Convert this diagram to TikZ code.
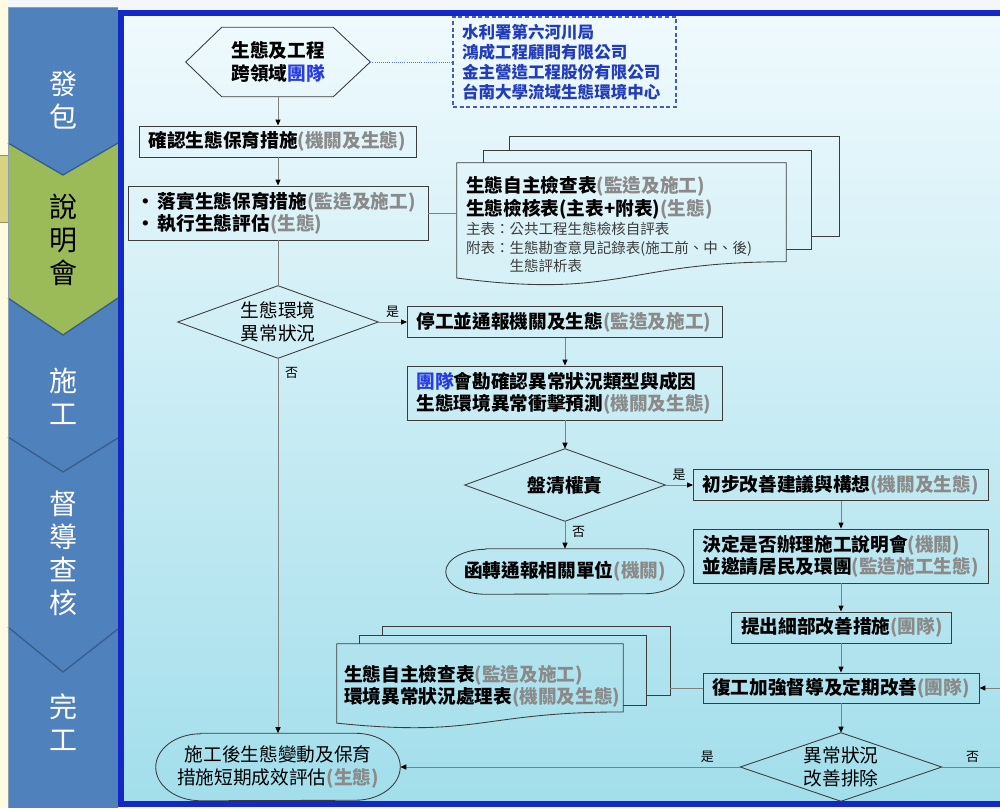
\documentclass[tikz,border=0pt]{standalone}
\usepackage{fontspec}
\setmainfont{Noto Sans CJK TC}
\usetikzlibrary{calc,arrows.meta}
\newdimen\pxu \pxu=0.75pt
\definecolor{stblue}{RGB}{79,129,189}
\definecolor{stgreen}{RGB}{155,187,89}
\definecolor{chev}{RGB}{56,93,138}
\definecolor{frameb}{RGB}{20,40,200}
\definecolor{creamc}{RGB}{255,251,225}
\definecolor{tanc}{RGB}{216,210,130}
\definecolor{grtx}{RGB}{138,138,138}
\definecolor{teamb}{RGB}{40,60,225}
\definecolor{orgb}{RGB}{35,60,185}
\definecolor{bxl}{RGB}{60,60,60}
\definecolor{cnl}{RGB}{128,128,128}
\definecolor{smtx}{RGB}{60,60,60}
\definecolor{bgt}{RGB}{243,247,249}
\definecolor{shA}{RGB}{240,250,253}
\definecolor{shB}{RGB}{210,239,247}
\definecolor{shC}{RGB}{162,222,235}
\newcommand{\mainsz}{\fontsize{14pt}{16.75pt}\selectfont\bfseries\lineskiplimit=-50pt\relax}
\newcommand{\mainreg}{\fontsize{14pt}{16.75pt}\selectfont\lineskiplimit=-50pt\relax}
\newcommand{\smallsz}{\fontsize{10.9pt}{13.9pt}\selectfont\lineskiplimit=-50pt\relax}
\newcommand{\labsz}{\fontsize{9.75pt}{11pt}\selectfont}
\newcommand{\stagesz}{\fontsize{21pt}{24.75pt}\selectfont\lineskiplimit=-50pt\relax}
\newcommand{\orgsz}{\fontsize{12.4pt}{15pt}\selectfont\bfseries\lineskiplimit=-50pt\relax}
\newcommand{\grp}[1]{\textcolor{grtx}{\bfseries #1}}
\newcommand{\tmb}[1]{\textcolor{teamb}{#1}}
\begin{document}
\begin{tikzpicture}[x=0.75pt,y=-0.75pt,
  box/.style={draw=bxl,line width=0.65pt,inner ysep=0pt,align=left,font=\mainsz},
  plain/.style={inner sep=0pt,align=center},
  shapeline/.style={draw=bxl,line width=0.65pt},
  conn/.style={draw=cnl,line width=0.75pt},
  arr/.style={conn,-{Triangle[length=4.5pt,width=3.75pt,color=black]}},
  lab/.style={font=\labsz,inner sep=3pt,text=black},
  stagelab/.style={font=\stagesz,align=center,inner sep=0pt}]
\useasboundingbox (0,0) rectangle (1000,808);
\clip (0,0) rectangle (1000,808);
% background
\fill[bgt] (0,0) rectangle (1000,808);
\fill[creamc] (0,0) rectangle (8,808);
\filldraw[fill=tanc,draw=tanc!70!black,line width=0.4pt] (-2,155) rectangle (8,222);
% stage column
\fill[stblue] (8,7) rectangle (118,808);
\fill[stgreen] (8,143) -- (63,175) -- (118,143) -- (118,298) -- (63,335) -- (8,298) -- cycle;
\draw[chev,line width=1pt] (8,143) -- (63,175) -- (118,143);
\draw[chev,line width=1pt] (8,298) -- (63,335) -- (118,298);
\draw[chev,line width=1pt] (8,437) -- (63,472) -- (118,438);
\draw[chev,line width=1pt] (8,627) -- (63,672) -- (118,629);
\draw[chev!60,line width=0.5pt] (8,808) -- (8,7) -- (118,7);
\node[stagelab,text=white] (st1) at (63,100) {發\\包};
\node[stagelab,text=black] (st2) at (63,240) {說\\明\\會};
\node[stagelab,text=white] (st3) at (63,396) {施\\工};
\node[stagelab,text=white] (st4) at (63,553) {督\\導\\查\\核};
\node[stagelab,text=white] (st5) at (63,722) {完\\工};
% frame
\shade[top color=shA,middle color=shB,bottom color=shC] (121,13) rectangle (1000,804);
\draw[frameb,line width=4.5pt] (121,13) rectangle (1012,804);

% nodes
\node[plain,font=\mainsz,minimum width=184\pxu,minimum height=69\pxu] (hex) at (278,62) {生態及工程\\跨領域\tmb{團隊}};
\draw[shapeline] (hex.west) -- ([xshift=27pt]hex.north west) -- ([xshift=-27.75pt]hex.north east) -- (hex.east) -- ([xshift=-27.75pt]hex.south east) -- ([xshift=27pt]hex.south west) -- cycle;

\node[draw=orgb!85,dash pattern=on 3pt off 2pt,line width=0.8pt,inner ysep=0pt,inner xsep=9\pxu,
  text width=205\pxu,minimum height=90\pxu,align=left,font=\orgsz,text=orgb] (org) at (564.5,62)
  {水利署第六河川局\\鴻成工程顧問有限公司\\金主營造工程股份有限公司\\台南大學流域生態環境中心};

\node[box,minimum height=31\pxu,text width=259\pxu,inner xsep=9\pxu] (confirm) at (278,141.5) {確認生態保育措施\grp{(機關及生態)}};

\node[box,minimum height=54\pxu,text width=284\pxu,inner xsep=8\pxu] (bullets) at (278,213)
  {\makebox[22\pxu][l]{•}落實生態保育措施\grp{(監造及施工)}\\\makebox[22\pxu][l]{•}執行生態評估\grp{(生態)}};

% upper document stack
\node[inner ysep=0pt,inner xsep=9\pxu,text width=311\pxu,minimum height=123.5\pxu,align=left,font=\smallsz] (docA) at (621.5,224.75)
  {{\mainsz 生態自主檢查表\grp{(監造及施工)}}\\[3.35pt]
   {\mainsz 生態檢核表(主表+附表)\grp{(生態)}}\\[0.4pt]
   \leavevmode\textcolor{smtx}{主表：公共工程生態檢核自評表}\\
   \leavevmode\textcolor{smtx}{附表：生態勘查意見記錄表(施工前、中、後)}\\
   \leavevmode\hspace*{3em}\textcolor{smtx}{生態評析表}};
\draw[shapeline] (docA.north west) -- (docA.north east) -- ($(docA.north east)+(0,99)$)
  .. controls ($(docA.north east)+(-164.5,99)$) and ($(docA.north east)+(-164.5,136.8)$) .. ($(docA.north west)+(0,115.3)$) -- cycle;
\draw[shapeline] ($(docA.north west)+(27,0)$) -- ($(docA.north west)+(27,-12)$) -- ($(docA.north east)+(25,-12)$) -- ($(docA.north east)+(25,87)$) -- ($(docA.north east)+(0,87)$);
\draw[shapeline] ($(docA.north west)+(53,-12)$) -- ($(docA.north west)+(53,-26)$) -- ($(docA.north east)+(53,-26)$) -- ($(docA.north east)+(53,74)$) -- ($(docA.north east)+(25,74)$);

\node[plain,font=\mainreg,minimum width=200\pxu,minimum height=72\pxu] (c1) at (278,322) {生態環境\\異常狀況};
\draw[shapeline] (c1.west) -- (c1.north) -- (c1.east) -- (c1.south) -- cycle;

\node[box,minimum height=31\pxu,text width=297\pxu,inner xsep=9\pxu] (stop) at (565,322) {停工並通報機關及生態\grp{(監造及施工)}};
\node[box,minimum height=54\pxu,text width=297\pxu,inner xsep=9\pxu] (survey) at (565,393)
  {\leavevmode\tmb{團隊}會勘確認異常狀況類型與成因\\生態環境異常衝擊預測\grp{(機關及生態)}};

\node[plain,font=\mainsz,minimum width=200\pxu,minimum height=72\pxu] (resp) at (565,485) {盤清權責};
\draw[shapeline] (resp.west) -- (resp.north) -- (resp.east) -- (resp.south) -- cycle;

\node[box,minimum height=31\pxu,text width=277\pxu,inner xsep=9\pxu] (init) at (841,485) {初步改善建議與構想\grp{(機關及生態)}};

\node[plain,font=\mainsz,minimum width=238\pxu,minimum height=45\pxu] (notify) at (565,571.5) {函轉通報相關單位\grp{(機關)}};
\draw[shapeline] ([xshift=30pt]notify.north west) -- ([xshift=-30pt]notify.north east)
  arc[start angle=90,end angle=-90,x radius=30pt,y radius=16.875pt] -- ([xshift=30pt]notify.south west)
  arc[start angle=270,end angle=90,x radius=30pt,y radius=16.875pt] -- cycle;

\node[box,minimum height=54\pxu,text width=277\pxu,inner xsep=9\pxu] (decide) at (841,556)
  {決定是否辦理施工說明會\grp{(機關)}\\並邀請居民及環團\grp{(監造施工生態)}};
\node[box,minimum height=31\pxu,text width=200\pxu,inner xsep=10\pxu] (detail) at (841,627.5) {提出細部改善措施\grp{(團隊)}};
\node[box,minimum height=30\pxu,text width=258\pxu,inner xsep=9\pxu] (resume) at (841,688) {復工加強督導及定期改善\grp{(團隊)}};

% lower document stack
\node[inner ysep=0pt,inner xsep=7\pxu,text width=272\pxu,minimum height=85\pxu,align=left,font=\mainsz] (docB) at (480,686.5)
  {生態自主檢查表\grp{(監造及施工)}\\環境異常狀況處理表\grp{(機關及生態)}};
\draw[shapeline] (docB.north west) -- (docB.north east) -- ($(docB.north east)+(0,68.2)$)
  .. controls ($(docB.north east)+(-143,68.2)$) and ($(docB.north east)+(-143,94.2)$) .. ($(docB.north west)+(0,79.4)$) -- cycle;
\draw[shapeline] ($(docB.north west)+(23,0)$) -- ($(docB.north west)+(23,-8)$) -- ($(docB.north east)+(23,-8)$) -- ($(docB.north east)+(23,62)$) -- ($(docB.north east)+(0,62)$);
\draw[shapeline] ($(docB.north west)+(46,-8)$) -- ($(docB.north west)+(46,-17)$) -- ($(docB.north east)+(47,-17)$) -- ($(docB.north east)+(47,52)$) -- ($(docB.north east)+(23,52)$);
\coordinate (docBR) at ($(docB.north east)+(47,0)$);

\node[plain,font=\mainreg,minimum width=201\pxu,minimum height=68\pxu] (c2) at (841,767) {異常狀況\\改善排除};
\draw[shapeline] (c2.west) -- (c2.north) -- (c2.east) -- (c2.south) -- cycle;

\node[plain,font=\mainreg,minimum width=244\pxu,minimum height=67\pxu] (eval) at (278,767) {施工後生態變動及保育\\措施短期成效評估\grp{(生態)}};
\draw[shapeline] ([xshift=33.75pt]eval.north west) -- ([xshift=-33.75pt]eval.north east)
  arc[start angle=90,end angle=-90,x radius=33.75pt,y radius=25.125pt] -- ([xshift=33.75pt]eval.south west)
  arc[start angle=270,end angle=90,x radius=33.75pt,y radius=25.125pt] -- cycle;

\coordinate (rin) at (1000,688);
\coordinate (rout) at (1000,767);

% connectors
\draw[draw=orgb!70,line width=0.6pt,densely dotted] (hex.east) -- (org.west);
\draw[arr] (hex.south) -- (confirm.north);
\draw[arr] (confirm.south) -- (bullets.north);
\draw[conn] (bullets.east) -- (bullets.east -| docA.west);
\draw[conn] (bullets.south) -- (c1.north);
\draw[arr] (c1.east) -- node[lab,above] {是} (stop.west);
\draw[arr] (c1.south) -- node[lab,pos=0.04,right,xshift=2pt] {否} (eval.north);
\draw[arr] (stop.south) -- (survey.north);
\draw[arr] (survey.south) -- (resp.north);
\draw[arr] (resp.east) -- node[lab,above] {是} (init.west);
\draw[arr] (resp.south) -- node[lab,pos=0.4,right,xshift=2pt] {否} (notify.north);
\draw[arr] (init.south) -- (decide.north);
\draw[arr] (decide.south) -- (detail.north);
\draw[arr] (detail.south) -- (resume.north);
\draw[arr] (resume.south) -- (c2.north);
\draw[conn] (resume.west) -- (resume.west -| docBR);
\draw[arr] (rin) -- (resume.east);
\draw[arr] (c2.west) -- node[lab,above,pos=0.097] {是} (eval.east);
\draw[conn] (c2.east) -- node[lab,above,pos=0.53] {否} (rout);
\end{tikzpicture}
\end{document}
